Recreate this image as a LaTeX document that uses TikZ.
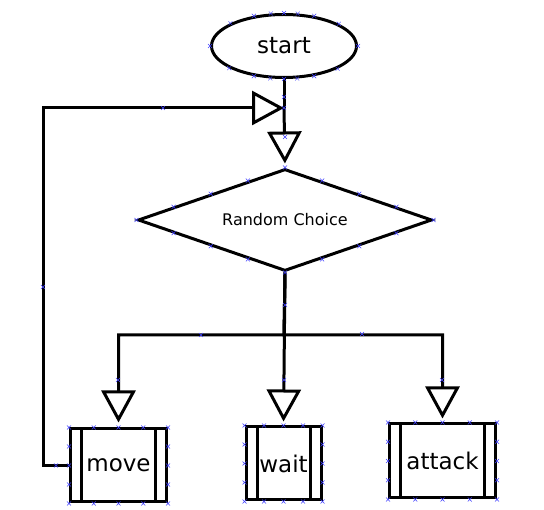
\documentclass[tikz,border=0pt]{standalone}
\usepackage{fontspec}
\setmainfont{DejaVu Sans}
\usetikzlibrary{shapes.geometric,arrows.meta,calc}

\tikzset{
  shape line/.style={draw, line width=3pt},
  process/.style={shape line, rectangle, minimum height=73,
    font=\fontsize{23}{26}\selectfont,
    path picture={
      \draw[line width=3pt]
        ([xshift=11]path picture bounding box.north west) -- ([xshift=11]path picture bounding box.south west)
        ([xshift=-11]path picture bounding box.north east) -- ([xshift=-11]path picture bounding box.south east);
    }},
  flow/.style={line width=3pt, -{Triangle[open, length=32pt, width=34pt, line width=3pt]}},
  line/.style={line width=3pt},
  cpt/.pic={\draw[blue!75, line width=.4pt] (-2,-2) -- (2,2) (-2,2) -- (2,-2);}
}

\begin{document}
\begin{tikzpicture}[x=1pt, y=-1pt]
\useasboundingbox (0,0) rectangle (544,510);

% Start
\node[shape line, ellipse, minimum width=145, minimum height=63,
  font=\fontsize{23}{26}\selectfont] (start) at (284,46) {start};

% Decision
\node[shape line, diamond, aspect=2.88, minimum width=294, minimum height=102, inner sep=0pt,
  font=\fontsize{16}{19}\selectfont] (choice) at (285,220) {Random Choice};

% Actions
\node[process, minimum width=96] (move) at (118.5,465.5) {move};
\node[process, minimum width=75] (wait) at (283.5,463.5) {wait};
\node[process, minimum width=106, minimum height=74] (attack) at (442.5,461) {attack};

% Junctions
\coordinate (join) at (284,108);
\coordinate (split) at (284,335);
\coordinate (back) at (43,465.5);

% Connectors
\draw[line] (start.south) -- (join);
\draw[flow, shorten >=4pt] (join) -- (choice.north);
\draw[flow] (move.west) -- (back) |- (join);
\draw[flow, shorten >=5pt] (choice.south) -- (split) -| (move.north);
\draw[flow, shorten >=4pt] (choice.south) -- (wait.north);
\draw[flow, shorten >=4pt] (choice.south) -- (split) -| (attack.north);

% Connection points
\foreach \a in {0,22.5,...,337.5}
  \pic at (start.\a) {cpt};
\foreach \t in {0,.25,.5,.75} {
  \pic at ($(choice.north)!\t!(choice.east)$) {cpt};
  \pic at ($(choice.east)!\t!(choice.south)$) {cpt};
  \pic at ($(choice.south)!\t!(choice.west)$) {cpt};
  \pic at ($(choice.west)!\t!(choice.north)$) {cpt};
}
\foreach \n in {move,wait,attack} {
  \foreach \t in {0,.25,.5,.75,1} {
    \pic at ($(\n.north west)!\t!(\n.north east)$) {cpt};
    \pic at ($(\n.south west)!\t!(\n.south east)$) {cpt};
  }
  \foreach \t in {.25,.5,.75} {
    \pic at ($(\n.north west)!\t!(\n.south west)$) {cpt};
    \pic at ($(\n.north east)!\t!(\n.south east)$) {cpt};
  }
}
\foreach \p in {(163,108),(43,287),(56,465.5),(284,97),(284,108),(285,137),
                (285,305),(201,335),(362,334),(118,380),(284,380),(442,380)}
  \pic at \p {cpt};

\end{tikzpicture}
\end{document}
